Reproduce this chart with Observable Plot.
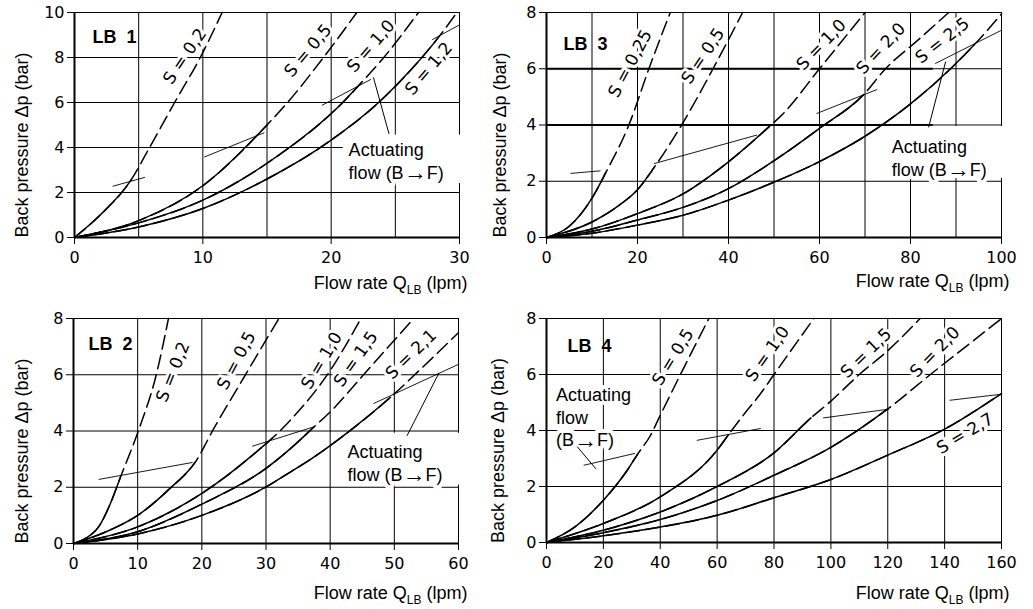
<!DOCTYPE html>
<html><head><meta charset="utf-8">
<script src="https://cdn.jsdelivr.net/npm/d3@7"></script>
<script src="https://cdn.jsdelivr.net/npm/@observablehq/plot@0.6"></script>
<style>
body{margin:0;background:#fff}
#wrap{position:relative;width:1033px;height:609px;background:#fff;overflow:hidden}
#wrap svg{position:absolute}
</style></head><body><div id="wrap"></div>
<script>
// ---------- shared texts ----------
const yTitle = "Back pressure Δp (bar)";
const xTitleParts = ["Flow rate Q", "LB", " (lpm)"];
const noteTwoLines = "Actuating\nflow (B→F)";
const noteThreeLines = "Actuating\nflow\n(B→F)";
const yTicks8 = [0, 2, 4, 6, 8];

// ---------- LB 1 ----------
const lb1Name = "LB\u00a0\u00a01";
const lb1XTicks = [0, 10, 20, 30];
const lb1XGrid = [0, 5, 10, 15, 20, 25, 30];
const lb1YTicks = [0, 2, 4, 6, 8, 10];
const lb1S02 = [[0,0],[2,1.0],[4.4,2.55],[5.85,4.0],[7.8,6.0],[9.8,8.0],[11.5,10]];
const lb1S05 = [[0,0],[5,0.75],[10,2.3],[15,5.0],[16.6,6.0],[19.4,8.0],[22,10]];
const lb1S10 = [[0,0],[5,0.65],[10,1.66],[15,3.3],[20.9,6.0],[22.3,6.85],[24.1,8.0],[26.8,10]];
const lb1S12 = [[0,0],[5,0.47],[10,1.29],[15,2.6],[20,4.33],[23.7,6.0],[26.2,7.44],[28.3,8.85],[29.8,10]];
const lb1Trans = [4.4, 15, 22.3, 28.3];
const lb1Labels = ["S = 0,2", "S = 0,5", "S = 1,0", "S = 1,2"];
const lb1LabelX = [8.6, 18.2, 23.1, 27.6];
const lb1LabelY = [8.05, 8.3, 8.5, 7.5];
const lb1LabelAngle = [56, 50, 49, 50];
const lb1Act = [[[3.0,2.28],[5.46,2.67]], [[10.13,3.58],[14.76,4.65]], [[19.3,5.88],[23.07,7.02]], [[27.9,8.8],[30,9.45]]];
const lb1Pointer = [[23.3,7.1],[24.5,4.62]];
const lb1NoteXY = [21.36, 4.32];
const lb1NoteBox = [20.95, 30.15, 2.4, 4.55];

// ---------- LB 3 ----------
const lb3Name = "LB\u00a0\u00a03";
const lb3XTicks = [0, 20, 40, 60, 80, 100];
const lb3XGrid = [0, 10, 20, 30, 40, 50, 60, 70, 80, 90, 100];
const lb3S025 = [[0,0],[5,0.4],[10,1.4],[13,2.3],[18.1,4.0],[22.5,6.0],[27.2,8.0]];
const lb3S05 = [[0,0],[10,0.55],[16,1.15],[20,1.7],[23.7,2.5],[29.7,4.0],[36.6,6.0],[43.1,8.0]];
const lb3S10 = [[0,0],[10,0.3],[20,0.85],[30,1.55],[40,2.69],[49,3.95],[51.7,4.35],[60,6.0],[70,8.0]];
const lb3S20 = [[0,0],[10,0.22],[20,0.62],[30,1.07],[40,1.74],[50.2,2.75],[60,3.88],[69.7,5.08],[74.5,6.0],[81.5,7.0],[88.4,8.0]];
const lb3S25 = [[0,0],[10,0.15],[20,0.44],[30,0.79],[40,1.33],[50.2,1.98],[60,2.7],[70,3.6],[80,4.75],[88.8,6.0],[94,6.85],[100,7.95]];
const lb3Trans = [13, 23.7, 49, 69.7, 94];
const lb3Labels = ["S = 0,25", "S = 0,5", "S = 1,0", "S = 2,0", "S = 2,5"];
const lb3LabelX = [18.4, 34.4, 60.4, 73.5, 87.0];
const lb3LabelY = [6.18, 6.45, 6.85, 6.72, 7.0];
const lb3LabelAngle = [62, 56, 46, 47, 38];
const lb3Act = [[[5.36,2.28],[11.8,2.37]], [[23.7,2.63],[46.2,3.64]], [[59.4,4.41],[72.6,5.26]], [[85.5,6.19],[100,7.37]]];
const lb3Pointer = [[87.7,6.24],[84.0,3.93]];
const lb3NoteXY = [75.9, 3.57];
const lb3NoteBox = [74.8, 100.5, 2.1, 3.95];
const lb3ThickY = [4, 6];
const lb3ThickTo = 85;

// ---------- LB 2 ----------
const lb2Name = "LB\u00a0\u00a02";
const lb2XTicks = [0, 10, 20, 30, 40, 50, 60];
const lb2XGrid = [0, 10, 20, 30, 40, 50, 60];
const lb2S02 = [[0,0],[2,0.2],[4,0.62],[5.8,1.45],[7.3,2.35],[10.1,4.0],[12.9,6.0],[14.8,8.0]];
const lb2S05 = [[0,0],[5,0.41],[10,1.0],[15,1.95],[19,2.9],[21.9,4.1],[26.8,6.0],[32,8.0]];
const lb2S10 = [[0,0],[10,0.59],[20,1.78],[30,3.55],[31,3.75],[33.85,4.4],[40,6.15],[44.8,8.0]];
const lb2S15 = [[0,0],[10,0.42],[20,1.4],[30,2.67],[33.85,3.38],[37.5,4.15],[40.1,4.7],[45.2,6.0],[53,8.0]];
const lb2S21 = [[0,0],[10,0.34],[20,1.0],[30,2.01],[33.85,2.55],[37,3.0],[43.2,4.03],[49.4,5.2],[54.7,6.33],[60,7.5]];
const lb2Trans = [7.3, 19, 31, 37.5, 49.4];
const lb2Labels = ["S = 0,2", "S = 0,5", "S = 1,0", "S = 1,5", "S = 2,1"];
const lb2LabelX = [15.5, 25.4, 38.7, 44.0, 52.6];
const lb2LabelY = [6.1, 6.5, 6.5, 6.56, 6.72];
const lb2LabelAngle = [68, 62, 59, 55, 44];
const lb2Act = [[[3.99,2.28],[18.5,2.88]], [[27.9,3.46],[37.5,4.15]], [[46.8,4.98],[60,6.37]]];
const lb2Pointer = [[52,3.84],[56.9,6.04]];
const lb2NoteXY = [42.7, 3.6];
const lb2NoteBox = [42.0, 60.3, 2.08, 3.92];

// ---------- LB 4 ----------
const lb4Name = "LB\u00a0\u00a04";
const lb4XTicks = [0, 20, 40, 60, 80, 100, 120, 140, 160];
const lb4XGrid = [0, 20, 40, 60, 80, 100, 120, 140, 160];
const lb4S05 = [[0,0],[10,0.56],[20,1.51],[28.4,2.58],[32,3.15],[36.6,3.83],[40,4.54],[47.1,6.0],[57.1,8.0]];
const lb4S10 = [[0,0],[20,0.68],[40,1.63],[60,3.3],[64,3.85],[70,4.65],[75.3,5.32],[80,6.0],[94,8.0]];
const lb4S15 = [[0,0],[20,0.44],[40,1.09],[60,2.0],[80,3.2],[93,4.45],[100,5.05],[110,6.0],[120,6.85],[131.4,8.0]];
const lb4S20 = [[0,0],[20,0.35],[40,0.82],[60,1.5],[80,2.4],[100,3.4],[120,4.77],[135,6.0],[150,7.2],[160,8.0]];
const lb4S27 = [[0,0],[20,0.24],[40,0.55],[60,0.97],[80,1.6],[100,2.25],[120,3.12],[140,4.05],[160,5.32]];
const lb4Trans = [32, 64, 93, 120, 160];
const lb4Labels = ["S = 0,5", "S = 1,0", "S = 1,5", "S = 2,0", "S = 2,7"];
const lb4LabelX = [44.5, 77.7, 112.4, 136.6, 147.2];
const lb4LabelY = [6.62, 6.74, 6.76, 6.8, 3.89];
const lb4LabelAngle = [58, 55, 44, 46, 31];
const lb4Act = [[[13.2,2.76],[31.0,3.18]], [[53.0,3.65],[75.2,4.07]], [[97.4,4.45],[120.3,4.76]], [[141.9,5.08],[159.5,5.29]]];
const lb4Pointer = [[10.9,3.41],[17.3,2.64]];
const lb4NoteXY = [3.3, 5.62];

// ---------- layout ----------
const panels = [
  {left:0, top:0, width:480, height:300, ml:74, mr:21, mt:12, mb:63,
   xDomain:[0,30], yDomain:[0,10], xTicks:lb1XTicks, xGrid:lb1XGrid, yTicks:lb1YTicks,
   curves:[lb1S02,lb1S05,lb1S10,lb1S12], trans:lb1Trans,
   labels:lb1Labels, lx:lb1LabelX, ly:lb1LabelY, la:lb1LabelAngle,
   acts:lb1Act, pointer:lb1Pointer, note:noteTwoLines, noteXY:lb1NoteXY, noteBox:lb1NoteBox,
   name:lb1Name, nameDx:18, nameDy:24.5, ytDx:-52, ytDy:20, xtDx:8, xtDy:46},
  {left:480, top:0, width:553, height:300, ml:66, mr:32, mt:12, mb:63,
   xDomain:[0,100], yDomain:[0,8], xTicks:lb3XTicks, xGrid:lb3XGrid, yTicks:yTicks8,
   curves:[lb3S025,lb3S05,lb3S10,lb3S20,lb3S25], trans:lb3Trans,
   labels:lb3Labels, lx:lb3LabelX, ly:lb3LabelY, la:lb3LabelAngle,
   acts:lb3Act, pointer:lb3Pointer, note:noteTwoLines, noteXY:lb3NoteXY, noteBox:lb3NoteBox,
   thickY:lb3ThickY, thickTo:lb3ThickTo,
   name:lb3Name, nameDx:17, nameDy:31.5, ytDx:-46, ytDy:20, xtDx:8, xtDy:44},
  {left:0, top:300, width:480, height:309, ml:73, mr:22, mt:18, mb:66,
   xDomain:[0,60], yDomain:[0,8], xTicks:lb2XTicks, xGrid:lb2XGrid, yTicks:yTicks8,
   curves:[lb2S02,lb2S05,lb2S10,lb2S15,lb2S21], trans:lb2Trans,
   labels:lb2Labels, lx:lb2LabelX, ly:lb2LabelY, la:lb2LabelAngle,
   acts:lb2Act, pointer:lb2Pointer, note:noteTwoLines, noteXY:lb2NoteXY, noteBox:lb2NoteBox,
   name:lb2Name, nameDx:15, nameDy:25.5, ytDx:-51, ytDy:20, xtDx:9, xtDy:50},
  {left:480, top:300, width:553, height:309, ml:66, mr:32, mt:18, mb:67,
   xDomain:[0,160], yDomain:[0,8], xTicks:lb4XTicks, xGrid:lb4XGrid, yTicks:yTicks8,
   curves:[lb4S05,lb4S10,lb4S15,lb4S20,lb4S27], trans:lb4Trans,
   labels:lb4Labels, lx:lb4LabelX, ly:lb4LabelY, la:lb4LabelAngle,
   acts:lb4Act, pointer:lb4Pointer, note:noteThreeLines, noteXY:lb4NoteXY, noteBox:null,
   name:lb4Name, nameDx:21, nameDy:27.5, ytDx:-48, ytDy:20, xtDx:8, xtDy:51}
];

const px = d => d[0], py = d => d[1];
const SANS = "Liberation Sans, Arial, Helvetica, sans-serif";
const WIDE = "DejaVu Sans, Liberation Sans, sans-serif";

function build(p) {
  const marks = [
    Plot.gridX(p.xGrid, {stroke: "#000", strokeOpacity: 1, strokeWidth: 1}),
    Plot.gridY(p.yTicks, {stroke: "#000", strokeOpacity: 1, strokeWidth: 1}),
    Plot.ruleX([0], {stroke: "#000", strokeWidth: 2}),
    Plot.ruleY([0], {stroke: "#000", strokeWidth: 2})
  ];
  if (p.thickY) marks.push(Plot.ruleY(p.thickY, {x1: 0, x2: p.thickTo, stroke: "#000", strokeWidth: 2.2}));
  if (p.noteBox) marks.push(Plot.rect([p.noteBox], {x1: d => d[0], x2: d => d[1], y1: d => d[2], y2: d => d[3], fill: "#fff"}));
  marks.push(
    Plot.text(p.labels, {
      x: (d, i) => p.lx[i], y: (d, i) => p.ly[i], text: d => d,
      rotate: (d, i) => -p.la[i], fontSize: 17, fontFamily: WIDE,
      fill: "#000", stroke: "#fff", strokeWidth: 6
    }),
    Plot.text([p.note], {
      x: () => p.noteXY[0], y: () => p.noteXY[1], text: d => d,
      textAnchor: "start", lineAnchor: "top", lineHeight: 1.25,
      fontSize: 18, fontFamily: SANS, fill: "#000", stroke: "#fff", strokeWidth: 8
    }),
    Plot.text([p.name], {
      frameAnchor: "top-left", dx: p.nameDx, dy: p.nameDy, text: d => d,
      textAnchor: "start", lineAnchor: "middle", fontSize: 18, fontWeight: "bold",
      fontFamily: SANS, fill: "#000"
    })
  );
  p.acts.forEach(a => marks.push(Plot.line(a, {x: px, y: py, stroke: "#000", strokeWidth: 0.9})));
  marks.push(Plot.line(p.pointer, {x: px, y: py, stroke: "#000", strokeWidth: 1}));
  p.curves.forEach(c => {
    marks.push(Plot.line(c, {x: px, y: py, curve: "monotone-x", stroke: "#000", strokeWidth: 1.5, strokeDasharray: "14,6"}));
    marks.push(Plot.line(c, {x: px, y: py, curve: "monotone-x", stroke: "#000", strokeWidth: 1.5}));
  });
  marks.push(
    Plot.axisX(p.xTicks, {tickSize: 7, tickPadding: 7, fontSize: 16, fontFamily: WIDE, label: null}),
    Plot.axisY(p.yTicks, {tickSize: 7, tickPadding: 3, fontSize: 16, fontFamily: WIDE, label: null}),
    Plot.text([yTitle], {
      frameAnchor: "left", dx: p.ytDx, dy: p.ytDy, rotate: -90, text: d => d,
      textAnchor: "middle", lineAnchor: "middle", fontSize: 18, fontFamily: SANS, fill: "#000"
    }),
    Plot.text([xTitleParts.join("")], {
      frameAnchor: "bottom-right", dx: p.xtDx, dy: p.xtDy, text: d => d,
      textAnchor: "end", lineAnchor: "middle", fontSize: 18, fontFamily: SANS, fill: "#000"
    })
  );
  const svg = Plot.plot({
    width: p.width, height: p.height,
    marginLeft: p.ml, marginRight: p.mr, marginTop: p.mt, marginBottom: p.mb,
    x: {domain: p.xDomain}, y: {domain: p.yDomain},
    style: {fontFamily: SANS, fontSize: "16px", background: "#fff", color: "#000", overflow: "visible"},
    marks
  });
  const ns = "http://www.w3.org/2000/svg";
  // subscript in the x title
  svg.querySelectorAll("text").forEach(t => {
    if (t.textContent === xTitleParts.join("")) {
      t.textContent = "";
      const a = document.createElementNS(ns, "tspan"); a.textContent = xTitleParts[0];
      const b = document.createElementNS(ns, "tspan"); b.textContent = xTitleParts[1];
      b.setAttribute("font-size", "12"); b.setAttribute("dy", "5");
      const c = document.createElementNS(ns, "tspan"); c.textContent = xTitleParts[2];
      c.setAttribute("dy", "-5");
      t.append(a, b, c);
    }
  });
  // longer arrow glyph in "(B→F)"
  svg.querySelectorAll("text, tspan").forEach(el => {
    if (el.children.length === 0 && el.textContent.includes("→")) {
      const [pre, post] = el.textContent.split("→");
      el.textContent = "";
      const arr = document.createElementNS(ns, "tspan");
      arr.textContent = "→";
      arr.setAttribute("font-size", "23");
      arr.setAttribute("dy", "1.5");
      const rest = document.createElementNS(ns, "tspan");
      rest.textContent = post;
      rest.setAttribute("dy", "-1.5");
      el.append(document.createTextNode(pre), arr, rest);
    }
  });
  svg.style.position = "absolute";
  svg.style.left = p.left + "px";
  svg.style.top = p.top + "px";
  return svg;
}

// trim each solid copy so that it stops where the curve turns dashed
function trimSolid(svg, p) {
  const xs = svg.scale("x");
  const groups = [...svg.querySelectorAll('g[stroke-width="1.5"]')].filter(g => !g.hasAttribute("stroke-dasharray"));
  groups.forEach((g, i) => {
    const c = p.curves[i];
    if (!c) return;
    const t = p.trans[i];
    if (t >= c[c.length - 1][0]) return;
    const path = g.querySelector("path");
    if (!path) return;
    const total = path.getTotalLength();
    const X = xs.apply(t);
    let lo = 0, hi = total;
    for (let k = 0; k < 40; k++) {
      const mid = (lo + hi) / 2;
      if (path.getPointAtLength(mid).x < X) lo = mid; else hi = mid;
    }
    path.setAttribute("stroke-dasharray", lo.toFixed(2) + " " + (total + 50).toFixed(2));
  });
}

const wrap = document.getElementById("wrap");
panels.forEach(p => {
  const svg = build(p);
  wrap.appendChild(svg);
  trimSolid(svg, p);
});
</script>
</body></html>
